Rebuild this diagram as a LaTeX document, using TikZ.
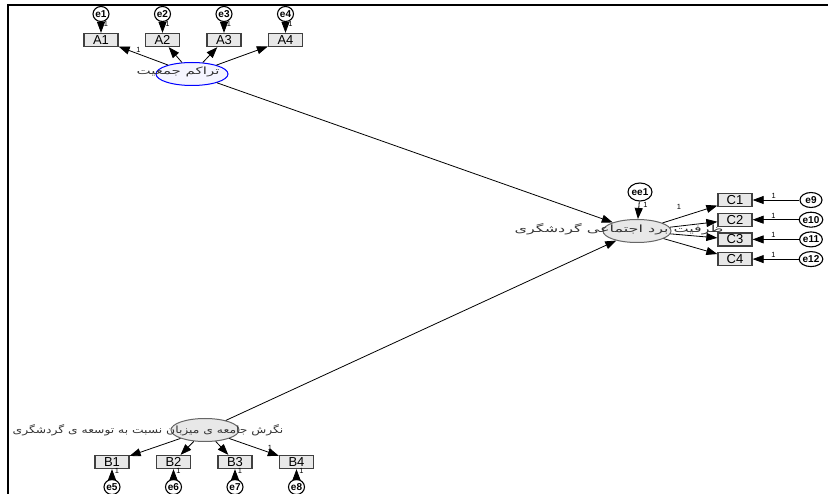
\documentclass[tikz,border=0pt]{standalone}
\usepackage{fontspec}
\setmainfont{Liberation Sans}
\newfontfamily\farsi[Script=Arabic]{DejaVu Sans}
\TeXXeTstate=1
\usetikzlibrary{shapes.geometric,arrows.meta}

\begin{document}
\begin{tikzpicture}[x=1pt,y=-1pt,node distance=61.5pt]
	\tikzstyle{obs} = [rectangle, draw=black!75, fill=gray!18, line width=1.3pt, minimum width=34pt, minimum height=13pt, inner sep=0pt, font=\fontsize{13}{13}\selectfont];
	\tikzstyle{err} = [ellipse, draw=black, fill=white, line width=1.1pt, minimum width=16pt, minimum height=15pt, inner sep=0pt, font=\fontsize{10}{10}\selectfont\bfseries];
	\tikzstyle{lat} = [ellipse, draw=gray!80!black, fill=gray!18, line width=1pt, minimum width=68pt, minimum height=23pt];
	\tikzstyle{latname} = [inner sep=0pt, text=black!80, transform shape, font=\farsi\fontsize{10}{10}\selectfont];
	\tikzstyle{link} = [->, >={Triangle[length=11pt,width=8pt]}, line width=0.8pt];
	\tikzstyle{one} = [inner sep=1pt, font=\fontsize{7.5}{7.5}\selectfont];
	\useasboundingbox (0,0) rectangle (828,494);
	\draw [line width=2pt] (8,494) -- (8,5) -- (828,5);

	% top latent
	\node (dens) [lat, draw=blue, fill=blue!4, minimum width=72pt] at (192,74) {};
	\node (A1) [obs] at (101,40) {A1};
	\node (A2) [obs, right of=A1] {A2};
	\node (A3) [obs, right of=A2] {A3};
	\node (A4) [obs, right of=A3] {A4};
	\node (e1) [err, node distance=26pt, above of=A1] {e1};
	\node (e2) [err, node distance=26pt, above of=A2] {e2};
	\node (e3) [err, node distance=26pt, above of=A3] {e3};
	\node (e4) [err, node distance=26pt, above of=A4] {e4};

	% right latent
	\node (cap) [lat] at (637,231) {};
	\node (ee1) [err, minimum width=24pt, minimum height=18pt] at (640,192) {ee1};
	\node (C1) [obs] at (735,200) {C1};
	\node (C2) [obs, node distance=19.7pt, below of=C1] {C2};
	\node (C3) [obs, node distance=19.7pt, below of=C2] {C3};
	\node (C4) [obs, node distance=19.7pt, below of=C3] {C4};
	\node (e9) [err, minimum width=22pt, node distance=76pt, right of=C1] {e9};
	\node (e10) [err, minimum width=22pt, node distance=76pt, right of=C2] {e10};
	\node (e11) [err, minimum width=22pt, node distance=76pt, right of=C3] {e11};
	\node (e12) [err, minimum width=22pt, node distance=76pt, right of=C4] {e12};

	% bottom latent
	\node (att) [lat] at (205,430) {};
	\node (B1) [obs] at (112,462) {B1};
	\node (B2) [obs, right of=B1] {B2};
	\node (B3) [obs, right of=B2] {B3};
	\node (B4) [obs, right of=B3] {B4};
	\node (e5) [err, node distance=25pt, below of=B1] {e5};
	\node (e6) [err, node distance=25pt, below of=B2] {e6};
	\node (e7) [err, node distance=25pt, below of=B3] {e7};
	\node (e8) [err, node distance=25pt, below of=B4] {e8};

	\draw [link] (dens) -- node [one, pos=0.6, above] {1} (A1);
	\draw [link] (dens) -- (A2);
	\draw [link] (dens) -- (A3);
	\draw [link] (dens) -- (A4);
	\draw [link] (e1) -- node [one, pos=0.2, right=1.5pt] {1} (A1);
	\draw [link] (e2) -- node [one, pos=0.2, right=1.5pt] {1} (A2);
	\draw [link] (e3) -- node [one, pos=0.2, right=1.5pt] {1} (A3);
	\draw [link] (e4) -- node [one, pos=0.2, right=1.5pt] {1} (A4);

	\draw [link] (dens) -- (cap);
	\draw [link] (att) -- (cap);

	\draw [link] (ee1) -- node [one, pos=0.2, right=3pt] {1} (cap);
	\draw [link] (cap) -- node [one, pos=0.3, above=7pt] {1} (C1);
	\draw [link] (cap) -- (C2);
	\draw [link] (cap) -- (C3);
	\draw [link] (cap) -- (C4);
	\draw [link] (e9) -- node [one, pos=0.55, above] {1} (C1);
	\draw [link] (e10) -- node [one, pos=0.55, above] {1} (C2);
	\draw [link] (e11) -- node [one, pos=0.55, above] {1} (C3);
	\draw [link] (e12) -- node [one, pos=0.55, above] {1} (C4);

	\draw [link] (att) -- (B1);
	\draw [link] (att) -- (B2);
	\draw [link] (att) -- (B3);
	\draw [link] (att) -- node [one, pos=0.75, above right] {1} (B4);
	\draw [link] (e5) -- node [one, pos=0.8, right=1.5pt] {1} (B1);
	\draw [link] (e6) -- node [one, pos=0.8, right=1.5pt] {1} (B2);
	\draw [link] (e7) -- node [one, pos=0.8, right=1.5pt] {1} (B3);
	\draw [link] (e8) -- node [one, pos=0.8, right=1.5pt] {1} (B4);

	% latent names
	\node (densname) [latname, xscale=1.5] at (178,72) {\beginR تراکم جمعیت\endR};
	\node (capname) [latname, xscale=1.6] at (619,229) {\beginR ظرفیت برد اجتماعی گردشگری\endR};
	\node (attname) [latname, xscale=1.23] at (148,430) {\beginR نگرش جامعه ی میزبان نسبت به توسعه ی گردشگری\endR};
\end{tikzpicture}
\end{document}
